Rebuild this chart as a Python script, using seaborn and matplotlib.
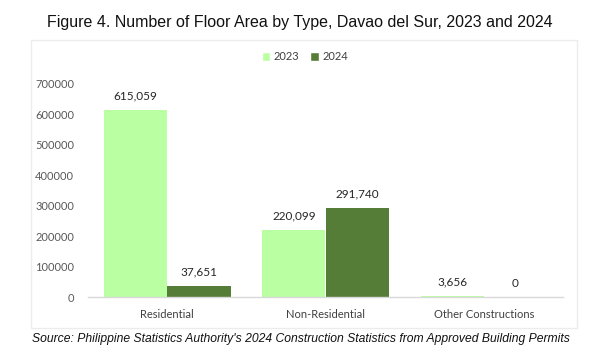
import matplotlib
matplotlib.use("Agg")
import matplotlib.pyplot as plt
import seaborn as sns
import pandas as pd
from matplotlib.patches import Rectangle, Patch

categories = ["Residential", "Non-Residential", "Other Constructions"]
years = ["2023", "2024"]
values_2023 = [615059, 220099, 3656]
values_2024 = [37651, 291740, 0]
yticks = [0, 100000, 200000, 300000, 400000, 500000, 600000, 700000]

df = pd.DataFrame({
    "Type": categories * 2,
    "Year": ["2023"] * 3 + ["2024"] * 3,
    "Value": values_2023 + values_2024,
})

sns.set_style("white")
plt.rcParams["font.family"] = ["Lato", "DejaVu Sans"]

W, H = 607, 355
fig = plt.figure(figsize=(W / 100, H / 100), dpi=100)
ax = fig.add_axes([88 / W, 1 - 297 / H, (563 - 88) / W, (297 - 84) / H])

palette = {"2023": "#BBFFA3", "2024": "#567D38"}
sns.barplot(data=df, x="Type", y="Value", hue="Year", order=categories,
            hue_order=years, palette=palette, width=0.8, saturation=1,
            ax=ax, legend=False, linewidth=0)

ax.set_xlim(-0.5, 2.5)
ax.set_ylim(0, 700000)
ax.set_yticks(yticks)
ax.set_yticklabels([str(v) for v in yticks])
ax.set_xlabel("")
ax.set_ylabel("")
for s in ["top", "right", "left"]:
    ax.spines[s].set_visible(False)
ax.spines["bottom"].set_color("#d9d9d9")
ax.spines["bottom"].set_linewidth(1.0)
ax.tick_params(axis="y", length=0, labelsize=8, labelcolor="#595959", pad=10)
ax.tick_params(axis="x", length=0, labelsize=8, labelcolor="#404040", pad=9)

for cont in ax.containers:
    ax.bar_label(cont, labels=[f"{v:,.0f}" for v in cont.datavalues],
                 padding=6, fontsize=8.5, color="#262626")

handles = [Patch(facecolor=palette[y], label=y) for y in years]
fig.legend(handles=handles, loc="center", bbox_to_anchor=(305 / W, 1 - 57 / H),
           ncol=2, frameon=False, fontsize=8, handlelength=0.8, handleheight=0.8,
           handletextpad=0.3, columnspacing=1.0, labelcolor="#404040")

fig.patches.append(Rectangle((31 / W, 1 - 328 / H), (577 - 31) / W, (328 - 40) / H,
                             transform=fig.transFigure, fill=False,
                             edgecolor="#ececec", linewidth=1.0))

fig.text(300 / W, 1 - 22 / H,
         "Figure 4. Number of Floor Area by Type, Davao del Sur, 2023 and 2024",
         ha="center", va="center", fontsize=11.5, family="Liberation Sans",
         color="#111111")
fig.text(32 / W, 1 - 339 / H,
         "Source: Philippine Statistics Authority's 2024 Construction Statistics from Approved Building Permits",
         ha="left", va="center", fontsize=8.7, family="Liberation Sans",
         style="italic", color="#111111")

fig.savefig("out.png", dpi=100)
